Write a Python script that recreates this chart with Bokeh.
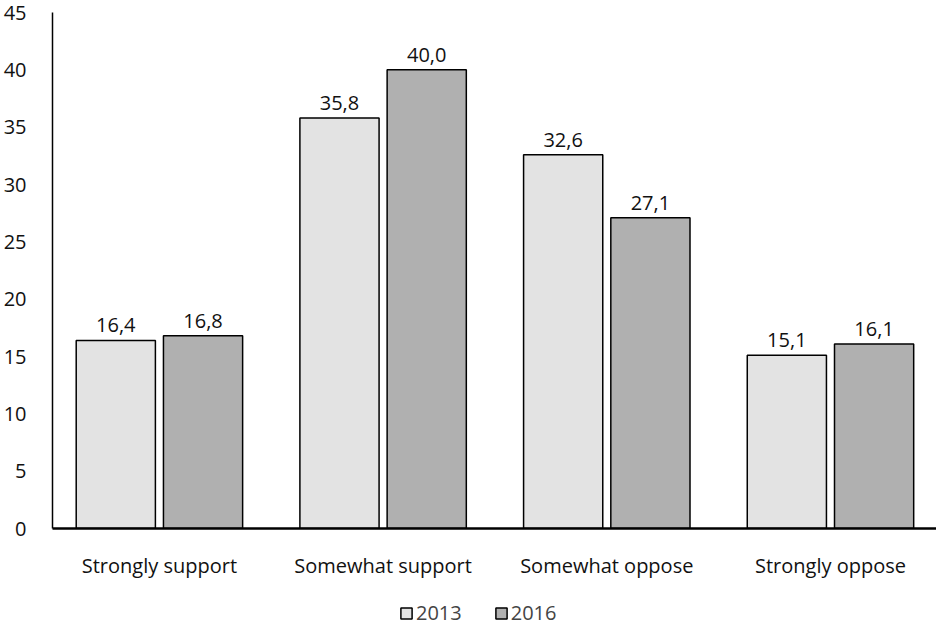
from bokeh.plotting import figure
from bokeh.layouts import column
from bokeh.models import ColumnDataSource, Range1d, FixedTicker, Legend, LegendItem
from bokeh.transform import dodge
from bokeh.core.properties import value
from bokeh.embed import file_html
from bokeh.resources import INLINE

categories = ["Strongly support", "Somewhat support", "Somewhat oppose", "Strongly oppose"]
v2013 = [16.4, 35.8, 32.6, 15.1]
v2016 = [16.8, 40.0, 27.1, 16.1]
series = ["2013", "2016"]
y_ticks = [0, 5, 10, 15, 20, 25, 30, 35, 40, 45]

FONT = "Open Sans"
FS = "20px"
C13, C16 = "#e3e3e3", "#b0b0b0"
idx = list(range(len(categories)))
src = ColumnDataSource(dict(
    x=idx, v2013=v2013, v2016=v2016,
    l2013=[f"{v:.1f}".replace(".", ",") for v in v2013],
    l2016=[f"{v:.1f}".replace(".", ",") for v in v2016],
))

p = figure(frame_width=884, frame_height=516, output_backend="svg", toolbar_location=None,
           x_range=Range1d(-0.478, 3.474), y_range=Range1d(0, 45),
           min_border_left=48, min_border_right=0, min_border_top=12, min_border_bottom=0)
p.outline_line_color = None
p.grid.visible = False

off = 0.195
w = 0.354
p.vbar(x=dodge("x", -off, range=p.x_range), top="v2013", width=w, source=src,
       fill_color=C13, line_color="black", line_width=1.5)
p.vbar(x=dodge("x", off, range=p.x_range), top="v2016", width=w, source=src,
       fill_color=C16, line_color="black", line_width=1.5)

for col, lab, o in (("v2013", "l2013", -off), ("v2016", "l2016", off)):
    p.text(x=dodge("x", o, range=p.x_range), y=col, text=lab, source=src,
           text_align="center", text_baseline="bottom", y_offset=-8,
           text_font=value(FONT), text_font_size=FS, text_color="#111111")

p.xaxis.ticker = FixedTicker(ticks=idx)
p.xaxis.major_label_overrides = {i: c for i, c in zip(idx, categories)}
p.yaxis.ticker = FixedTicker(ticks=y_ticks)
for ax in (p.xaxis, p.yaxis):
    ax.major_tick_line_color = None
    ax.minor_tick_line_color = None
    ax.axis_line_color = "black"
    ax.major_label_text_font = FONT
    ax.major_label_text_font_size = FS
    ax.major_label_text_color = "#111111"
p.xaxis.axis_line_width = 2.5
p.yaxis.axis_line_width = 1.5
p.xaxis.major_label_standoff = 17
p.yaxis.major_label_standoff = 20

# Legend figure (bars there lie outside its y-range, so only the legend shows)
lg = figure(width=932, height=57, output_backend="svg", toolbar_location=None,
            x_range=Range1d(-0.478, 3.474), y_range=Range1d(1000, 1001),
            x_axis_location=None, y_axis_location=None,
            min_border_left=0, min_border_right=0, min_border_top=0, min_border_bottom=0)
lg.outline_line_color = None
lg.grid.visible = False
g1 = lg.vbar(x="x", top="v2013", width=w, source=src, fill_color=C13, line_color="black", line_width=1.5)
g2 = lg.vbar(x="x", top="v2016", width=w, source=src, fill_color=C16, line_color="black", line_width=1.5)
legend = Legend(items=[LegendItem(label=series[0], renderers=[g1]),
                       LegendItem(label=series[1], renderers=[g2])],
                orientation="horizontal", location=(347, 12),
                label_text_font=FONT, label_text_font_size=FS,
                glyph_width=14, glyph_height=14, spacing=32, label_standoff=3,
                border_line_color=None, background_fill_alpha=0, margin=0, padding=2)
lg.add_layout(legend, "center")

layout = column(p, lg, spacing=0)
open("out.html", "w").write(file_html(layout, INLINE))
